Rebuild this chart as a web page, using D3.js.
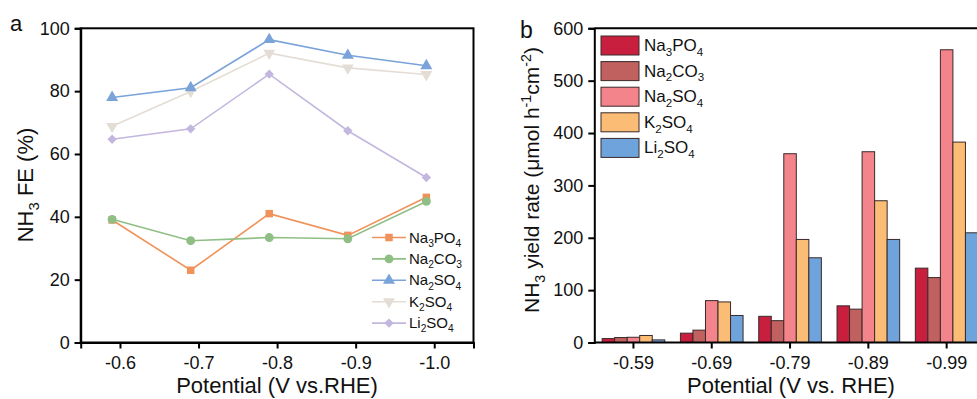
<!DOCTYPE html>
<html><head><meta charset="utf-8">
<script src="https://cdn.jsdelivr.net/npm/d3@7"></script>
<style>body{margin:0;background:#fff}svg{display:block;font-family:"Liberation Sans",Arial,sans-serif}</style>
</head><body><svg id="c" width="977" height="399"></svg>
<script>
const potentialsA = [-0.59, -0.69, -0.79, -0.89, -0.99];
const tickValuesA = [-0.6, -0.7, -0.8, -0.9, -1.0];
const tickLabelsA = ["-0.6", "-0.7", "-0.8", "-0.9", "-1.0"];
const yTicksA = [0, 20, 40, 60, 80, 100];
const seriesNames = [["Na","3","PO","4"],["Na","2","CO","3"],["Na","2","SO","4"],["K","2","SO","4"],["Li","2","SO","4"]];
const feNa3PO4 = [39.0, 23.0, 41.0, 34.1, 46.2];
const feNa2CO3 = [39.2, 32.4, 33.4, 33.0, 44.9];
const feNa2SO4 = [78.0, 81.1, 96.4, 91.4, 88.1];
const feK2SO4  = [68.8, 79.9, 92.1, 87.4, 85.3];
const feLi2SO4 = [64.7, 68.0, 85.4, 67.4, 52.5];
const lineColors = ["#f0925a", "#8fbf85", "#79a3d9", "#e4ddd5", "#c3b7df"];
const markerShapes = ["square", "circle", "up", "down", "diamond"];

const categoriesB = ["-0.59", "-0.69", "-0.79", "-0.89", "-0.99"];
const yTicksB = [0, 100, 200, 300, 400, 500, 600];
const yrNa3PO4 = [7.5, 17.8, 50.0, 70.0, 142.0];
const yrNa2CO3 = [9.5, 23.6, 41.7, 63.7, 124.0];
const yrNa2SO4 = [10.0, 80.0, 360.5, 364.3, 559.0];
const yrK2SO4  = [13.4, 77.5, 196.8, 270.7, 382.7];
const yrLi2SO4 = [5.0, 51.6, 161.8, 196.8, 209.5];
const barColors = ["#c81f3f", "#c0605f", "#f4848c", "#fbbd76", "#6ea3dc"];

const svg = d3.select("#c");
const FONT = "Liberation Sans, Arial, sans-serif";

function subText(sel, parts, size) {
  parts.forEach((p, i) => {
    const t = sel.append("tspan").text(p);
    if (i % 2 === 1) { t.attr("font-size", size * 0.68).attr("dy", size * 0.28); }
    else if (i > 0) { t.attr("dy", -size * 0.28); }
  });
}

// ---------- Chart a ----------
const A = {l: 80.7, r: 473.5, t: 28.3, b: 342.5};
const xA = d3.scaleLinear().domain([-0.55, -1.05]).range([A.l, A.r]);
const yA = d3.scaleLinear().domain([0, 100]).range([A.b, A.t]);
const gA = svg.append("g");

gA.append("rect").attr("x", A.l).attr("y", A.t).attr("width", A.r - A.l).attr("height", A.b - A.t)
  .attr("fill", "none").attr("stroke", "#000").attr("stroke-width", 2);

const axAx = gA.append("g").attr("transform", `translate(0,${A.b})`)
  .call(d3.axisBottom(xA).tickValues(tickValuesA).tickFormat((d, i) => tickLabelsA[i]).tickSize(6).tickPadding(8));
const axAy = gA.append("g").attr("transform", `translate(${A.l},0)`)
  .call(d3.axisLeft(yA).tickValues(yTicksA).tickSize(6).tickPadding(5));
[axAx, axAy].forEach(ax => {
  ax.select(".domain").attr("stroke-width", 2);
  ax.selectAll(".tick line").attr("stroke-width", 2);
  ax.selectAll("text").attr("font-size", 18).attr("font-family", FONT).attr("fill", "#111");
});

const feData = [feNa3PO4, feNa2CO3, feNa2SO4, feK2SO4, feLi2SO4];
const lineGen = d3.line().x((d, i) => xA(potentialsA[i])).y(d => yA(d));
function sym(shape) {
  if (shape === "square") return d3.symbol().type(d3.symbolSquare).size(56)();
  if (shape === "circle") return d3.symbol().type(d3.symbolCircle).size(62)();
  if (shape === "diamond") return d3.symbol().type(d3.symbolSquare).size(44)();
  return d3.symbol().type(d3.symbolTriangle).size(62)();
}
function rot(shape) {
  return shape === "down" ? " rotate(180)" : shape === "diamond" ? " rotate(45)" : "";
}
const drawOrder = [4, 3, 2, 0, 1];
drawOrder.forEach(s => {
  const vals = feData[s];
  gA.append("path").attr("d", lineGen(vals)).attr("fill", "none").attr("stroke", lineColors[s]).attr("stroke-width", 1.6);
  gA.selectAll(null).data(vals).enter().append("path")
    .attr("d", sym(markerShapes[s]))
    .attr("transform", (d, i) => `translate(${xA(potentialsA[i])},${yA(d)})${rot(markerShapes[s])}`)
    .attr("fill", lineColors[s]);
});

// legend a
seriesNames.forEach((nm, s) => {
  const y = 237.5 + s * 21.4;
  gA.append("line").attr("x1", 372).attr("x2", 406).attr("y1", y).attr("y2", y)
    .attr("stroke", lineColors[s]).attr("stroke-width", 1.6);
  const shape = markerShapes[s];
  gA.append("path").attr("d", sym(shape))
    .attr("transform", `translate(389,${y})${rot(shape)}`).attr("fill", lineColors[s]);
  const t = gA.append("text").attr("x", 409).attr("y", y + 5).attr("font-size", 15).attr("fill", "#111");
  subText(t, nm, 15);
});

gA.append("text").attr("x", 277).attr("y", 393).attr("text-anchor", "middle").attr("font-size", 22).attr("fill", "#111")
  .text("Potential (V vs.RHE)");
const ylA = gA.append("text").attr("transform", `translate(33,185) rotate(-90)`).attr("text-anchor", "middle")
  .attr("font-size", 22).attr("fill", "#111");
subText(ylA, ["NH", "3", " FE (%)"], 22);
gA.append("text").attr("x", 10).attr("y", 31).attr("font-size", 22).attr("fill", "#111").text("a");

// ---------- Chart b ----------
const B = {l: 594.3, r: 986, t: 28.3, b: 342.5};
const x0 = d3.scaleBand().domain(categoriesB).range([B.l, B.l + 5 * 78.3]).paddingInner(0.2).paddingOuter(0.1);
const keys = [0, 1, 2, 3, 4];
const x1 = d3.scaleBand().domain(keys).range([0, x0.bandwidth()]);
const yB = d3.scaleLinear().domain([0, 600]).range([B.b, B.t]);
const gB = svg.append("g");
const yrData = [yrNa3PO4, yrNa2CO3, yrNa2SO4, yrK2SO4, yrLi2SO4];

categoriesB.forEach((c, ci) => {
  gB.selectAll(null).data(keys).enter().append("rect")
    .attr("x", k => x0(c) + x1(k)).attr("width", x1.bandwidth())
    .attr("y", k => yB(yrData[k][ci])).attr("height", k => B.b - yB(yrData[k][ci]))
    .attr("fill", k => barColors[k]).attr("stroke", "#3a2a2a").attr("stroke-width", 1);
});

gB.append("line").attr("x1", B.l).attr("x2", B.r).attr("y1", B.t).attr("y2", B.t).attr("stroke", "#000").attr("stroke-width", 2);
gB.append("line").attr("x1", B.r).attr("x2", B.r).attr("y1", B.t).attr("y2", B.b).attr("stroke", "#000").attr("stroke-width", 2);

const axBx = gB.append("g").attr("transform", `translate(0,${B.b})`)
  .call(d3.axisBottom(x0).tickSize(6).tickPadding(8).tickSizeOuter(0));
const axBy = gB.append("g").attr("transform", `translate(${B.l},0)`)
  .call(d3.axisLeft(yB).tickValues(yTicksB).tickSize(6).tickPadding(5));
axBx.select(".domain").attr("d", `M${B.l},0H${B.r}`);
[axBx, axBy].forEach(ax => {
  ax.select(".domain").attr("stroke-width", 2);
  ax.selectAll(".tick line").attr("stroke-width", 2);
  ax.selectAll("text").attr("font-size", 18).attr("font-family", FONT).attr("fill", "#111");
});

seriesNames.forEach((nm, s) => {
  const y = 36 + s * 25.6;
  gB.append("rect").attr("x", 601).attr("y", y).attr("width", 38).attr("height", 19)
    .attr("fill", barColors[s]).attr("stroke", "#3a2a2a").attr("stroke-width", 1);
  const t = gB.append("text").attr("x", 644).attr("y", y + 15).attr("font-size", 17).attr("fill", "#111");
  subText(t, nm, 17);
});

gB.append("text").attr("x", 791).attr("y", 393).attr("text-anchor", "middle").attr("font-size", 22).attr("fill", "#111")
  .text("Potential (V vs. RHE)");
const ylB = gB.append("text").attr("transform", `translate(539,180) rotate(-90)`).attr("text-anchor", "middle")
  .attr("font-size", 21).attr("fill", "#111");
(function(){
  const sz = 21;
  ylB.append("tspan").text("NH");
  ylB.append("tspan").text("3").attr("font-size", sz*0.68).attr("dy", sz*0.28);
  ylB.append("tspan").text(" yield rate (μmol h").attr("dy", -sz*0.28);
  ylB.append("tspan").text("-1").attr("font-size", sz*0.68).attr("dy", -sz*0.38);
  ylB.append("tspan").text("cm").attr("dy", sz*0.38);
  ylB.append("tspan").text("-2").attr("font-size", sz*0.68).attr("dy", -sz*0.38);
  ylB.append("tspan").text(")").attr("dy", sz*0.38);
})();
gB.append("text").attr("x", 520).attr("y", 38).attr("font-size", 23).attr("fill", "#111").text("b");
</script></body></html>
